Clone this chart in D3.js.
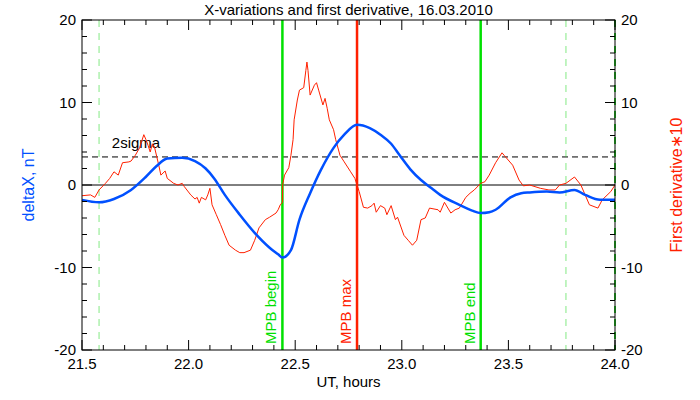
<!DOCTYPE html><html><head><meta charset="utf-8"><script src="https://cdn.jsdelivr.net/npm/d3@7"></script>
<style>body{margin:0;background:#fff}text{font-family:"Liberation Sans",Arial,sans-serif}</style></head><body><svg id="c" width="700" height="400"></svg>
<script>
const blueT=[21.5,21.58,21.65,21.73,21.8,21.85,21.9,21.97,22.03,22.08,22.12,22.17,22.24,22.31,22.38,22.42,22.44,22.48,22.52,22.57,22.62,22.68,22.73,22.79,22.85,22.9,22.95,22.99,23.04,23.09,23.14,23.18,23.27,23.33,23.37,23.41,23.44,23.51,23.56,23.6,23.68,23.74,23.81,23.86,23.93,24.0];
const blueV=[-1.8,-2.1,-1.7,-0.6,1.0,2.3,3.2,3.3,2.9,2.0,0.8,-1.2,-3.6,-5.8,-7.6,-8.4,-8.8,-7.9,-4.2,-1.0,1.8,4.5,6.1,7.3,6.9,6.1,5.0,3.6,1.9,0.6,-0.4,-1.2,-2.4,-3.1,-3.4,-3.3,-3.0,-1.5,-1.0,-0.9,-0.8,-0.9,-0.6,-1.2,-1.8,-1.8];
const redT=[21.50,21.54,21.56,21.58,21.61,21.63,21.65,21.67,21.69,21.72,21.73,21.75,21.77,21.79,21.80,21.81,21.82,21.83,21.84,21.86,21.87,21.89,21.90,21.93,21.95,21.97,21.98,22.01,22.03,22.04,22.05,22.06,22.08,22.09,22.10,22.11,22.13,22.15,22.17,22.19,22.22,22.24,22.26,22.29,22.31,22.33,22.36,22.38,22.41,22.42,22.43,22.44,22.441,22.45,22.47,22.48,22.49,22.495,22.51,22.52,22.54,22.55,22.555,22.56,22.57,22.59,22.60,22.61,22.63,22.64,22.65,22.66,22.68,22.69,22.71,22.73,22.76,22.78,22.79,22.80,22.82,22.84,22.86,22.87,22.88,22.90,22.92,22.93,22.95,22.97,22.98,23.01,23.03,23.05,23.07,23.09,23.11,23.13,23.17,23.18,23.20,23.23,23.25,23.27,23.30,23.32,23.34,23.37,23.39,23.41,23.44,23.47,23.48,23.52,23.55,23.57,23.60,23.65,23.69,23.72,23.74,23.77,23.81,23.84,23.86,23.88,23.92,23.94,23.98,24.0];
const redV=[-1.3,-1.2,-1.5,-0.6,0.2,0.8,1.6,1.2,2.7,2.8,2.9,3.6,4.5,6.1,5.5,4.8,4.0,5.0,4.6,2.4,1.2,1.7,0.8,0.2,0,0.2,-0.2,-1.2,-1.7,-1.5,-2.2,-1.5,-1.8,-1.2,-0.4,-2.4,-3.6,-4.8,-6.1,-7.3,-7.9,-8.2,-8.2,-7.9,-6.7,-5.2,-4.2,-3.9,-3.4,-3.0,-2.4,-2.1,0,1.2,2.1,3.6,5.5,7.9,10.3,11.5,11.8,13.9,14.9,13.9,10.9,12.1,12.4,11.5,9.7,10.5,9.3,7.9,6.7,5.5,3.6,2.8,1.6,0.8,0,-0.8,-2.7,-2.8,-2.5,-2.2,-3.3,-2.5,-2.8,-3.6,-2.5,-4.2,-3.9,-6.1,-6.7,-7.3,-6.7,-4.2,-4.0,-2.8,-3.0,-3.3,-2.1,-3.4,-3.0,-2.8,-1.5,-1.0,-0.6,0.2,0.4,1.2,2.7,3.9,3.6,2.4,0.6,-0.1,0,-0.4,-0.6,-0.6,0,0.2,0.97,0,-1.2,-2.4,-2.8,-1.8,-0.8,0];
const xTicks=[21.5,22.0,22.5,23.0,23.5,24.0];
const yTicks=[-20,-10,0,10,20];
const sigma2=3.4;
const markers=[{t:22.44,label:"MPB begin",c:"#00e000"},{t:22.79,label:"MPB max",c:"#ff2000"},{t:23.37,label:"MPB end",c:"#00e000"}];
const dashedT=[21.58,23.77,24.0];

const svg=d3.select("#c");
const L=82,R=615,T=20,B=350;
const x=d3.scaleLinear().domain([21.5,24]).range([L,R]);
const y=d3.scaleLinear().domain([-20,20]).range([B,T]);
const g=svg.append("g");
g.append("line").attr("x1",L).attr("x2",R).attr("y1",y(0)).attr("y2",y(0)).attr("stroke","#000");
g.append("line").attr("x1",L).attr("x2",R).attr("y1",y(sigma2)).attr("y2",y(sigma2)).attr("stroke","#000").attr("stroke-dasharray","6,4");
g.append("text").attr("x",x(21.64)).attr("y",y(sigma2)-9).attr("font-size",15).text("2sigma");
dashedT.forEach(t=>g.append("line").attr("x1",x(t)).attr("x2",x(t)).attr("y1",T).attr("y2",B).attr("stroke","#33dd33").attr("stroke-width",t==24?2:1).attr("stroke-dasharray","7,6").attr("opacity",t==24?1:0.6));
markers.forEach(m=>{
 g.append("line").attr("x1",x(m.t)).attr("x2",x(m.t)).attr("y1",T).attr("y2",B).attr("stroke",m.c).attr("stroke-width",2.5);
 g.append("text").attr("transform",`translate(${x(m.t)-6},${B-6}) rotate(-90)`).attr("fill",m.c).attr("font-size",15).text(m.label);
});
const line=d3.line().x(d=>x(d[0])).y(d=>y(d[1]));
g.append("path").attr("d",line(redT.map((t,i)=>[t,redV[i]]))).attr("fill","none").attr("stroke","#ff2000").attr("stroke-width",1);
g.append("path").attr("fill","none").attr("stroke","#0050ff").attr("stroke-width",2.5).attr("d",d3.line().curve(d3.curveMonotoneX).x(d=>x(d[0])).y(d=>y(d[1]))(blueT.map((t,i)=>[t,blueV[i]])));
g.append("rect").attr("x",L).attr("y",T).attr("width",R-L).attr("height",B-T).attr("fill","none").attr("stroke","#000");
for(let v=-20;v<=20;v+=2){const maj=v%10==0;const len=maj?10:5;
 g.append("line").attr("x1",L).attr("x2",L+len).attr("y1",y(v)).attr("y2",y(v)).attr("stroke","#000");
 g.append("line").attr("x1",R).attr("x2",R-len).attr("y1",y(v)).attr("y2",y(v)).attr("stroke","#000");}
for(let i=0;i<=25;i++){const v=21.5+i*0.1;const maj=i%5==0;const len=maj?10:5;
 g.append("line").attr("x1",x(v)).attr("x2",x(v)).attr("y1",B).attr("y2",B-len).attr("stroke","#000");
 g.append("line").attr("x1",x(v)).attr("x2",x(v)).attr("y1",T).attr("y2",T+len).attr("stroke","#000");}
yTicks.forEach(v=>{
 g.append("text").attr("x",L-6).attr("y",y(v)+5).attr("text-anchor","end").attr("font-size",15).text(v);
 g.append("text").attr("x",R+6).attr("y",y(v)+5).attr("font-size",15).text(v);});
xTicks.forEach(v=>g.append("text").attr("x",x(v)).attr("y",B+19).attr("text-anchor","middle").attr("font-size",15).text(v.toFixed(1)));
svg.append("text").attr("x",(L+R)/2).attr("y",15).attr("text-anchor","middle").attr("font-size",15).text("X-variations and first derivative, 16.03.2010");
svg.append("text").attr("x",(L+R)/2).attr("y",387).attr("text-anchor","middle").attr("font-size",15).text("UT, hours");
svg.append("text").attr("transform",`translate(34,${(T+B)/2}) rotate(-90)`).attr("text-anchor","middle").attr("fill","#0050ff").attr("font-size",16).text("deltaX, nT");
svg.append("text").attr("transform",`translate(682,${(T+B)/2}) rotate(-90)`).attr("text-anchor","middle").attr("fill","#ff2000").attr("font-size",16).text("First derivative∗10");
</script></body></html>
